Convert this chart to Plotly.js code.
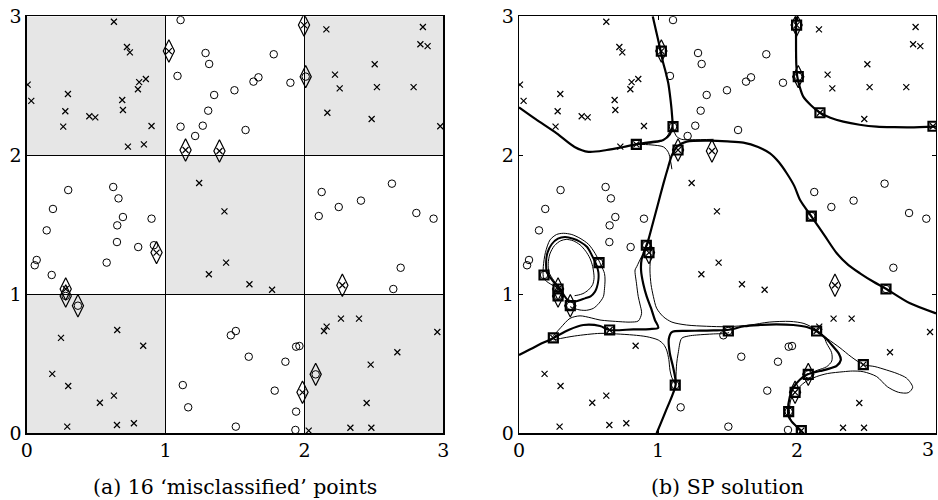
<!DOCTYPE html>
<html><head><meta charset="utf-8">
<script src="https://cdn.plot.ly/plotly-3.0.1.min.js"></script>
<style>html,body{margin:0;padding:0;background:#fff}</style>
</head><body><div id="plot" style="width:938px;height:500px"></div>
<script>
// ---- data: points (x class) ----
const crossX=[0.628,0.722,0.743,0.007,0.033,0.297,0.278,0.263,0.451,0.494,0.688,0.693,0.810,0.801,0.858,0.899,0.729,0.844,
2.158,2.853,2.835,2.887,2.506,2.220,2.254,2.522,2.786,2.165,2.484,2.978,
1.242,1.424,1.312,1.436,1.604,1.767,
0.652,0.247,0.839,0.184,0.299,0.628,0.527,0.292,0.650,0.772,
2.263,2.393,2.160,2.141,2.957,2.669,2.477,2.448,2.331,2.482,2.031,
1.024,1.144,1.388,1.997,0.935,2.273,1.986,0.281];
const crossY=[2.961,2.779,2.741,2.508,2.391,2.441,2.317,2.206,2.281,2.273,2.398,2.326,2.527,2.475,2.549,2.211,2.062,2.079,
2.906,2.923,2.799,2.786,2.655,2.580,2.482,2.491,2.491,2.306,2.261,2.209,
1.801,1.597,1.144,1.228,1.072,1.033,
0.743,0.686,0.630,0.427,0.340,0.271,0.220,0.048,0.060,0.072,
0.825,0.825,0.767,0.736,0.729,0.583,0.494,0.218,0.040,0.040,0.019,
2.750,2.038,2.031,2.937,1.300,1.065,0.295,1.038];
// ---- data: points (o class) ----
const circX=[1.108,1.288,1.314,1.086,1.496,1.350,1.307,1.108,1.268,1.213,1.779,1.669,1.633,1.899,1.576,
0.299,0.623,0.661,0.189,0.693,0.899,0.144,0.652,0.650,0.803,0.916,0.072,0.058,0.576,0.180,
2.630,2.124,2.407,2.247,2.103,2.806,2.930,2.693,2.640,
1.506,1.470,1.124,1.163,1.506,1.599,1.863,1.940,1.964,1.786,1.940,1.935,
2.009,0.369,2.081,0.281];
const circY=[2.973,2.736,2.657,2.571,2.468,2.434,2.321,2.206,2.213,2.139,2.727,2.561,2.530,2.522,2.182,
1.750,1.772,1.690,1.614,1.556,1.544,1.460,1.496,1.376,1.340,1.353,1.247,1.209,1.228,1.139,
1.796,1.736,1.674,1.628,1.563,1.585,1.544,1.191,1.038,
0.736,0.705,0.347,0.187,0.048,0.551,0.515,0.623,0.628,0.307,0.156,0.024,
2.566,0.918,0.424,0.988];
// ---- misclassified (diamonds) ----
const diamX=[1.024,1.144,1.388,1.997,2.009,0.935,0.281,0.281,0.369,2.273,2.081,1.986];
const diamY=[2.750,2.038,2.031,2.937,2.566,1.300,1.038,0.988,0.918,1.065,0.424,0.295];
// ---- support points (squares, panel b) ----
const svX=[0.844,1.108,1.024,1.144,1.997,2.009,2.165,2.978,2.103,2.640,1.506,2.141,2.477,2.081,1.986,1.940,2.031,0.916,0.935,0.576,0.180,0.281,0.281,0.369,0.247,0.652,1.124];
const svY=[2.079,2.206,2.750,2.038,2.937,2.566,2.306,2.209,1.563,1.038,0.736,0.736,0.494,0.424,0.295,0.156,0.019,1.353,1.300,1.228,1.139,1.038,0.988,0.918,0.686,0.743,0.347];
// ---- checkerboard shaded cells (lower-left corners) ----
const shadedCellX=[0,2,1,0,2];
const shadedCellY=[2,2,1,0,0];
const tickVals=[0,1,2,3];
const tickText=['0','1','2','3'];
// ---- panel b decision curves (thick) ----
const bTopLeftX=[0,0.12,0.271,0.40,0.50,0.631,0.75,0.842,0.95,1.038,1.085,1.104,1.100,1.090,1.074,1.055,1.038,1.019,0.990,0.962];
const bTopLeftY=[2.345,2.26,2.158,2.06,2.025,2.038,2.06,2.079,2.095,2.110,2.150,2.206,2.30,2.40,2.518,2.60,2.662,2.750,2.878,3.0];
const bMainX=[0,0.12,0.247,0.36,0.463,0.583,0.652,0.822,0.94,1.002,0.978,0.95,0.919,0.895,0.878,0.882,0.905,0.93,0.96,1.00,1.04,1.074,1.10,1.14,1.206,1.374,1.50,1.614,1.72,1.806,1.87,1.926,1.98,2.022,2.103,2.20,2.286,2.37,2.453,2.55,2.640,2.813,3.0];
const bMainY=[0.563,0.625,0.686,0.745,0.779,0.772,0.743,0.748,0.750,0.760,0.815,0.90,0.983,1.07,1.175,1.25,1.32,1.39,1.50,1.65,1.80,1.918,2.000,2.065,2.098,2.105,2.10,2.091,2.06,2.014,1.95,1.871,1.78,1.678,1.561,1.42,1.295,1.21,1.151,1.09,1.040,0.935,0.863];
const bLowRightX=[0.990,1.06,1.127,1.11,1.085,1.078,1.10,1.20,1.302,1.40,1.511,1.62,1.734,1.85,1.973,2.07,2.139,2.21,2.261,2.30,2.315,2.285,2.22,2.165,2.077,2.02,1.975,1.948,1.935,1.940,1.962,2.029,2.045];
const bLowRightY=[0,0.17,0.35,0.47,0.576,0.68,0.728,0.737,0.738,0.740,0.745,0.770,0.779,0.783,0.779,0.765,0.736,0.68,0.623,0.575,0.527,0.485,0.462,0.448,0.424,0.385,0.33,0.263,0.156,0.12,0.084,0.019,0];
const bTopRightX=[1.993,1.993,1.993,1.995,2.002,2.02,2.045,2.10,2.165,2.24,2.333,2.45,2.573,2.70,2.813,3.0];
const bTopRightY=[3.0,2.937,2.758,2.65,2.566,2.49,2.422,2.36,2.306,2.27,2.242,2.22,2.206,2.202,2.201,2.206];
const loopMidX=[0.30,0.24,0.20,0.195,0.205,0.235,0.28,0.331,0.39,0.439,0.49,0.523,0.553,0.571,0.571,0.560,0.547,0.515,0.475,0.43,0.391,0.35,0.30];
const loopMidY=[1.03,1.10,1.16,1.23,1.30,1.36,1.40,1.412,1.40,1.378,1.34,1.283,1.22,1.16,1.103,1.05,1.019,0.985,0.971,0.955,0.947,0.96,1.03];
// ---- panel b thin curves ----
const loopOutX=[0.25,0.19,0.175,0.175,0.19,0.223,0.27,0.319,0.38,0.439,0.50,0.547,0.59,0.615,0.619,0.615,0.607,0.575,0.535,0.485,0.439,0.40,0.367];
const loopOutY=[1.06,1.10,1.127,1.20,1.30,1.391,1.43,1.439,1.43,1.403,1.36,1.295,1.21,1.15,1.103,1.04,0.983,0.935,0.899,0.885,0.887,0.897,0.911];
const loopInX=[0.31,0.25,0.215,0.21,0.222,0.255,0.30,0.34,0.39,0.44,0.48,0.51,0.53,0.54,0.53,0.499,0.46,0.427,0.40];
const loopInY=[1.03,1.10,1.16,1.22,1.29,1.35,1.385,1.395,1.385,1.355,1.31,1.26,1.2,1.12,1.07,1.031,1.005,0.995,0.99];
const thinULX=[0.247,0.30,0.367,0.439,0.52,0.583,0.727,0.80,0.858,0.882,0.87,0.858,0.845,0.835,0.847,0.882,0.92];
const thinULY=[0.70,0.76,0.827,0.845,0.83,0.815,0.803,0.800,0.808,0.863,0.93,0.983,1.08,1.175,1.199,1.271,1.33];
const thinURX=[0.95,0.942,0.950,0.967,0.99,1.038,1.10,1.206,1.35,1.494,1.662,1.80,1.95,2.05,2.139,2.22,2.309,2.39,2.477,2.56,2.645,2.72,2.789,2.832,2.80,2.73,2.65,2.573,2.477,2.40,2.333,2.22,2.141,2.06,2.019,1.975,1.955,1.945,1.955,2.0,2.03];
const thinURY=[1.34,1.175,1.07,0.983,0.90,0.839,0.80,0.779,0.770,0.767,0.779,0.800,0.805,0.790,0.745,0.68,0.615,0.55,0.494,0.48,0.455,0.43,0.396,0.331,0.292,0.295,0.335,0.408,0.443,0.448,0.443,0.43,0.408,0.37,0.335,0.28,0.24,0.17,0.10,0.04,0];
const thinLLX=[0.247,0.40,0.583,0.70,0.822,0.92,1.002,1.04,1.062,1.078,1.086,1.10,1.127];
const thinLLY=[0.672,0.70,0.719,0.715,0.707,0.695,0.671,0.64,0.599,0.53,0.455,0.40,0.35];
const thinLRX=[1.127,1.134,1.145,1.170,1.22,1.278,1.40,1.494,1.511];
const thinLRY=[0.35,0.50,0.576,0.683,0.70,0.707,0.715,0.719,0.725];
const thinInX=[2.139,2.19,2.213,2.249,2.25,2.213,2.15,2.091,2.06];
const thinInY=[0.736,0.70,0.647,0.58,0.52,0.479,0.455,0.432,0.42];
const thinTop1X=[0.842,0.95,1.02,1.06,1.085,1.106];
const thinTop1Y=[2.079,2.088,2.10,2.13,2.17,2.206];
const thinTop2X=[1.106,1.13,1.17,1.25,1.40];
const thinTop2Y=[2.206,2.14,2.115,2.112,2.115];
const thinTop3X=[0.842,0.95,1.04,1.075,1.09,1.10];
const thinTop3Y=[2.079,2.075,2.06,2.02,1.96,1.90];

const black='#000';
function pts(xa,ya){
  return [
    {x:crossX,y:crossY,xaxis:xa,yaxis:ya,mode:'markers',type:'scatter',
     marker:{symbol:'x-thin-open',size:6,color:black,line:{width:1.2,color:black}}},
    {x:circX,y:circY,xaxis:xa,yaxis:ya,mode:'markers',type:'scatter',
     marker:{symbol:'circle-open',size:7.5,color:black,line:{width:1,color:black}}},
    {x:diamX,y:diamY,xaxis:xa,yaxis:ya,mode:'markers',type:'scatter',
     marker:{symbol:'diamond-tall-open',size:16,color:black,line:{width:1.2,color:black}}}
  ];
}
function curve(x,y,w){
  return {x:x,y:y,xaxis:'x2',yaxis:'y2',mode:'lines',type:'scatter',
    line:{color:black,width:w,shape:'spline',smoothing:0.8}};
}
const traces=[].concat(
  pts('x','y'),
  [curve(loopOutX,loopOutY,1),curve(loopInX,loopInY,1),
   curve(thinULX,thinULY,1),curve(thinURX,thinURY,1),curve(thinLLX,thinLLY,1),
   curve(thinLRX,thinLRY,1),curve(thinInX,thinInY,1),
   curve(thinTop1X,thinTop1Y,1),curve(thinTop2X,thinTop2Y,1),curve(thinTop3X,thinTop3Y,1),
   curve(bTopLeftX,bTopLeftY,2.2),curve(bMainX,bMainY,2.2),curve(bLowRightX,bLowRightY,2.2),
   curve(bTopRightX,bTopRightY,2.2),curve(loopMidX,loopMidY,2)],
  pts('x2','y2'),
  [{x:svX,y:svY,xaxis:'x2',yaxis:'y2',mode:'markers',type:'scatter',
    marker:{symbol:'square-open',size:9,color:black,line:{width:2.2,color:black}}}]
);

const shapes=shadedCellX.map((cx,i)=>({type:'rect',xref:'x',yref:'y',x0:cx,x1:cx+1,y0:shadedCellY[i],y1:shadedCellY[i]+1,
  fillcolor:'#e6e6e6',line:{width:0},layer:'below'}));

const serif='DejaVu Serif';
const font={family:serif,size:19,color:black};
const capFont={family:serif,size:20.5,color:black};
function ax(domain,anchor,grid){
  return {domain:domain,anchor:anchor,range:[0,3],tickvals:tickVals,ticktext:tickText,ticks:'inside',ticklen:4,
    tickcolor:black,tickwidth:1,showline:true,mirror:'ticks',linecolor:black,linewidth:1.3,
    showgrid:grid,gridcolor:black,gridwidth:1.3,zeroline:false,tickfont:font,fixedrange:true};
}
const layout={
  width:938,height:500,margin:{l:0,r:0,t:0,b:0},showlegend:false,
  paper_bgcolor:'#fff',plot_bgcolor:'rgba(0,0,0,0)',
  font:{family:serif},
  xaxis:ax([0.02846,0.4726],'y',true),
  yaxis:ax([0.1334,0.9674],'x',true),
  xaxis2:Object.assign(ax([0.5533,0.9979],'y2',false),{tickvals:tickVals.slice(0,3),ticktext:tickText.slice(0,3)}),
  yaxis2:ax([0.1334,0.9674],'x2',false),
  shapes:shapes,
  annotations:[
    {text:tickText[3],xref:'x2',yref:'paper',x:tickVals[3],y:0.103,xanchor:'right',yanchor:'middle',showarrow:false,font:font},
    {text:'(a) 16 \u2018misclassified\u2019 points',xref:'paper',yref:'paper',x:0.2505,y:0.027,xanchor:'center',yanchor:'middle',showarrow:false,font:capFont},
    {text:'(b) SP solution',xref:'paper',yref:'paper',x:0.7756,y:0.027,xanchor:'center',yanchor:'middle',showarrow:false,font:capFont}
  ]
};
Plotly.newPlot('plot',traces,layout,{staticPlot:true,displayModeBar:false});
</script></body></html>
